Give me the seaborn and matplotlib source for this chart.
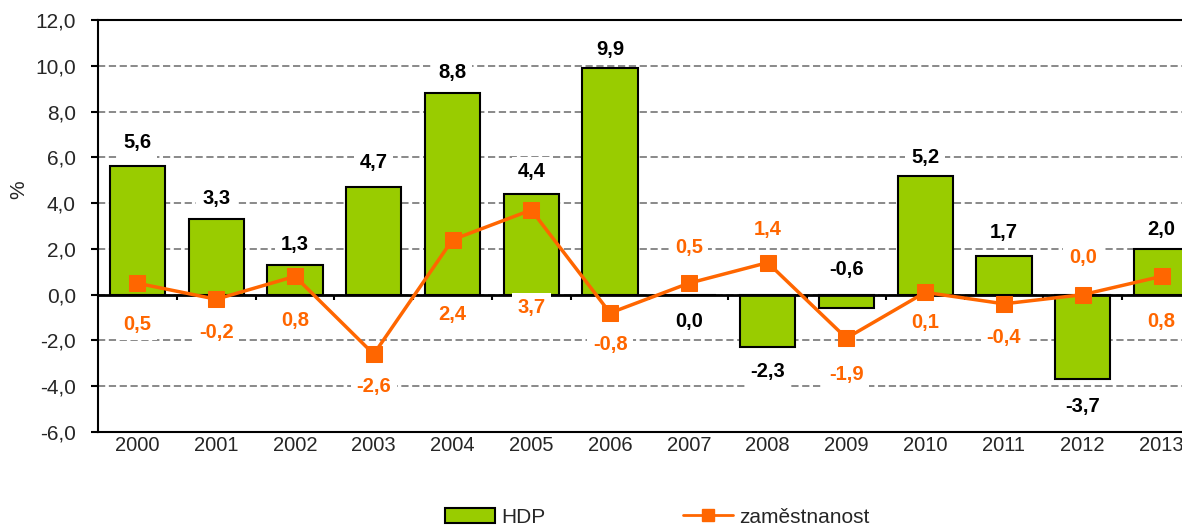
import numpy as np
import pandas as pd
import matplotlib
matplotlib.use('Agg')
import matplotlib.pyplot as plt
from matplotlib.ticker import FuncFormatter
from matplotlib.lines import Line2D
from matplotlib.patches import Patch
import seaborn as sns

years = ['2000', '2001', '2002', '2003', '2004', '2005', '2006',
         '2007', '2008', '2009', '2010', '2011', '2012', '2013']
hdp = [5.6, 3.3, 1.3, 4.7, 8.8, 4.4, 9.9, 0.0, -2.3, -0.6, 5.2, 1.7, -3.7, 2.0]
zamestnanost = [0.5, -0.2, 0.8, -2.6, 2.4, 3.7, -0.8, 0.5, 1.4, -1.9, 0.1, -0.4, 0.0, 0.8]

# where the value labels sit (y in data units), placed by hand like in the original
hdp_label_y = [6.64, 4.19, 2.18, 5.76, 9.69, 5.37, 10.7, -1.18, -3.36, 1.09, 5.98, 2.71, -4.89, 2.84]
zam_label_y = [-1.31, -1.66, -1.14, -4.02, -0.87, -0.57, -2.18, 2.05, 2.84, -3.49, -1.22, -1.88, 1.62, -1.18]

GREEN = '#99cc00'
ORANGE = '#ff6600'


def cz_fmt(v, pos=None):
    return f'{v:.1f}'.replace('.', ',')


sns.set_theme(style='white')
plt.rcParams['font.family'] = ['Liberation Sans', 'DejaVu Sans']

df = pd.DataFrame({'rok': years, 'hdp': hdp, 'zam': zamestnanost})

fig = plt.figure(figsize=(11.82, 5.27), dpi=100)
ax = fig.add_axes([98 / 1182, 95 / 527, 1084 / 1182, 412 / 527])

sns.barplot(data=df, x='rok', y='hdp', color=GREEN, saturation=1, width=0.7,
            edgecolor='black', linewidth=1.5, ax=ax, zorder=2)
ax.axhline(0, color='black', lw=2, zorder=3)
sns.lineplot(x=np.arange(len(years)), y=df['zam'], color=ORANGE, marker='s',
             markersize=11, markeredgecolor=ORANGE, linewidth=2.5,
             legend=False, ax=ax, zorder=4)

# small separators under the zero line between the categories
ax.vlines(np.arange(len(years) - 1) + 0.5, -0.25, 0, color='black', lw=1.5, zorder=3)

ax.set_ylim(-6, 12)
ax.set_yticks(np.arange(-6, 13, 2))
ax.set_xlim(-0.5, 13.26)
ax.yaxis.set_major_formatter(FuncFormatter(cz_fmt))
ax.yaxis.grid(True, color='#808080', linestyle=(0, (4, 2)), linewidth=1.3)
ax.set_axisbelow(True)

ax.spines['right'].set_visible(False)
for s in ['left', 'top', 'bottom']:
    ax.spines[s].set_color('black')
    ax.spines[s].set_linewidth(1.5)

ax.tick_params(axis='y', left=True, direction='out', length=5, width=1.5,
               color='black', labelsize=15, pad=11)
ax.tick_params(axis='x', bottom=False, length=0, labelsize=14.5, pad=3)
ax.set_xlabel('')
ax.set_ylabel('%', fontsize=15)
ax.yaxis.set_label_coords(-0.064, 0.587)

box = dict(facecolor='white', edgecolor='none', pad=4)
for i, (v, ly) in enumerate(zip(hdp, hdp_label_y)):
    ax.text(i, ly, cz_fmt(v), ha='center', va='center', fontsize=14.5,
            fontweight='bold', color='black', bbox=box, zorder=5)
for i, (v, ly) in enumerate(zip(zamestnanost, zam_label_y)):
    ax.text(i, ly, cz_fmt(v), ha='center', va='center', fontsize=14.5,
            fontweight='bold', color=ORANGE, bbox=box, zorder=5)

handles = [Patch(facecolor=GREEN, edgecolor='black', linewidth=1.5),
           Line2D([], [], color=ORANGE, marker='s', markersize=9, lw=2)]
fig.legend(handles, ['HDP', 'zaměstnanost'], loc='lower center',
           bbox_to_anchor=(0.556, -0.035), ncol=2, frameon=False, fontsize=15,
           handlelength=2.4, columnspacing=6.6, handletextpad=0.3)

fig.savefig('out.png', dpi=100)
